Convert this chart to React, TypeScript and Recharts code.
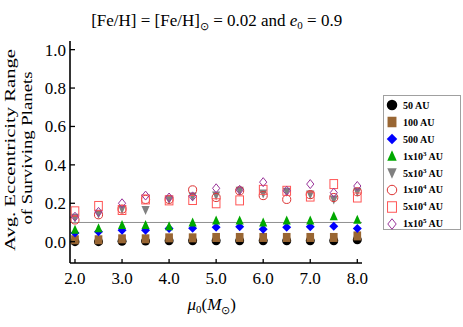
import React from 'react';
import {
  ScatterChart,
  Scatter,
  XAxis,
  YAxis,
  ReferenceLine,
  Legend
} from 'recharts';

// initial mass mu0 (solar masses)
const MU0 = [2.0, 2.5, 3.0, 3.5, 4.0, 4.5, 5.0, 5.5, 6.0, 6.5, 7.0, 7.5, 8.0];

// avg. eccentricity range per orbital distance
const AU_50 = [0.0, 0.0, 0.002, 0.003, 0.005, 0.005, 0.005, 0.005, 0.005, 0.005, 0.005, 0.005, 0.01];
const AU_100 = [0.01, 0.01, 0.015, 0.015, 0.02, 0.02, 0.022, 0.022, 0.022, 0.022, 0.022, 0.022, 0.03];
const AU_500 = [0.045, 0.052, 0.06, 0.06, 0.068, 0.07, 0.075, 0.078, 0.065, 0.075, 0.078, 0.08, 0.068];
const AU_1E3 = [0.062, 0.07, 0.087, 0.087, 0.08, 0.1, 0.11, 0.11, 0.1, 0.11, 0.11, 0.133, 0.115];
const AU_5E3 = [0.125, 0.145, 0.17, 0.165, 0.22, 0.235, 0.24, 0.265, 0.25, 0.26, 0.245, 0.22, 0.26];
const AU_1E4 = [0.113, 0.14, 0.17, 0.22, 0.22, 0.27, 0.23, 0.265, 0.24, 0.22, 0.245, 0.23, 0.26];
const AU_5E4 = [0.158, 0.186, 0.165, 0.22, 0.215, 0.217, 0.2, 0.215, 0.27, 0.265, 0.235, 0.3, 0.23];
const AU_1E5 = [0.13, 0.155, 0.2, 0.24, 0.23, 0.236, 0.278, 0.27, 0.31, 0.265, 0.3, 0.255, 0.29];

const X_TICKS = [2, 3, 4, 5, 6, 7, 8];
const Y_TICKS = [0, 0.2, 0.4, 0.6, 0.8, 1.0];
const THRESHOLD = 0.1;

const SERIES = [
  { name: '50 AU', values: AU_50, kind: 'circle', color: '#000000' },
  { name: '100 AU', values: AU_100, kind: 'square', color: '#996633' },
  { name: '500 AU', values: AU_500, kind: 'diamond', color: '#0000ff' },
  { name: '1x10^3 AU', values: AU_1E3, kind: 'triangle', color: '#00a800' },
  { name: '5x10^3 AU', values: AU_5E3, kind: 'invtriangle', color: '#808080' },
  { name: '1x10^4 AU', values: AU_1E4, kind: 'ocircle', color: '#dd3333' },
  { name: '5x10^4 AU', values: AU_5E4, kind: 'osquare', color: '#ff5555' },
  { name: '1x10^5 AU', values: AU_1E5, kind: 'odiamond', color: '#993399' },
];

const FONT = '"Liberation Serif", "Times New Roman", serif';
const TICK_GAP = 6;

const Marker = ({ kind, color, cx, cy, s }: any) => {
  const h = s / 2;
  switch (kind) {
    case 'circle':
      return <circle cx={cx} cy={cy} r={h} fill={color} />;
    case 'square':
      return <rect x={cx - h * 0.85} y={cy - h} width={s * 0.85} height={s} fill={color} />;
    case 'diamond':
      return <polygon points={`${cx},${cy - h} ${cx + h},${cy} ${cx},${cy + h} ${cx - h},${cy}`} fill={color} />;
    case 'triangle':
      return <polygon points={`${cx},${cy - h * 1.1} ${cx + h * 0.9},${cy + h * 0.9} ${cx - h * 0.9},${cy + h * 0.9}`} fill={color} />;
    case 'invtriangle':
      return <polygon points={`${cx},${cy + h * 1.1} ${cx + h * 0.9},${cy - h * 0.9} ${cx - h * 0.9},${cy - h * 0.9}`} fill={color} />;
    case 'ocircle':
      return <circle cx={cx} cy={cy} r={h * 0.9} fill="none" stroke={color} strokeWidth={1} />;
    case 'osquare':
      return <rect x={cx - h * 0.85} y={cy - h} width={s * 0.85} height={s} fill="none" stroke={color} strokeWidth={1} />;
    case 'odiamond':
      return <polygon points={`${cx},${cy - h} ${cx + h * 0.8},${cy} ${cx},${cy + h} ${cx - h * 0.8},${cy}`} fill="none" stroke={color} strokeWidth={1} />;
    default:
      return null;
  }
};

const XTick = (props: any) => {
  const { x, y, payload } = props;
  const axisY = y - TICK_GAP;
  return (
    <g>
      <line x1={x} x2={x} y1={axisY} y2={axisY - 4} stroke="#000" strokeWidth={1.3} />
      <text x={x} y={axisY + 20.5} textAnchor="middle" fontFamily={FONT} fontSize={17} fill="#000">
        {Number(payload.value).toFixed(1)}
      </text>
    </g>
  );
};

const YTick = (props: any) => {
  const { x, y, payload } = props;
  const axisX = x + TICK_GAP;
  return (
    <g>
      <line x1={axisX} x2={axisX + 5} y1={y} y2={y} stroke="#000" strokeWidth={1.3} />
      <text x={axisX - 4} y={y} dy="0.35em" textAnchor="end" fontFamily={FONT} fontSize={17} fill="#000">
        {Number(payload.value).toFixed(1)}
      </text>
    </g>
  );
};

const LegendLabel = ({ name }: { name: string }) => {
  const m = name.match(/^(.*)\^(\d)(.*)$/);
  if (!m) return <span>{name}</span>;
  return (
    <span>
      {m[1]}
      <sup style={{ fontSize: 7, verticalAlign: 'top', lineHeight: '7px' }}>{m[2]}</sup>
      {m[3]}
    </span>
  );
};

const renderLegend = () => (
  <div
    style={{
      border: '1px solid #a0a0a0',
      width: 78,
      height: 135,
      boxSizing: 'border-box',
      paddingTop: 1,
      background: '#fff',
    }}
  >
    {SERIES.map((s) => (
      <div key={s.name} style={{ display: 'flex', alignItems: 'center', height: 16.9 }}>
        <svg width={17} height={16} style={{ flex: 'none' }}>
          <Marker kind={s.kind} color={s.color} cx={8} cy={8} s={10.5} />
        </svg>
        <span style={{ marginLeft: 2, fontFamily: FONT, fontWeight: 'bold', fontSize: 10, color: '#000', whiteSpace: 'nowrap' }}>
          <LegendLabel name={s.name} />
        </span>
      </div>
    ))}
  </div>
);

export default function App() {
  return (
    <div style={{ position: 'absolute', left: 0, top: 0, width: 463, height: 327, background: '#fff' }}>
      <ScatterChart width={463} height={327} margin={{ top: 41, right: 101, bottom: 34, left: 40 }}>
        <XAxis
          type="number"
          dataKey="x"
          domain={[1.894, 8.1]}
          ticks={X_TICKS}
          allowDataOverflow
          height={30}
          tickSize={0}
          tickMargin={TICK_GAP}
          tickLine={false}
          axisLine={{ stroke: '#000', strokeWidth: 1.6 }}
          tick={<XTick />}
        />
        <XAxis xAxisId="top" type="number" orientation="top" domain={[0, 1]} height={0} tick={false} tickLine={false} axisLine={{ stroke: '#000', strokeWidth: 1.6 }} />
        <YAxis
          type="number"
          dataKey="y"
          domain={[-0.111, 1.045]}
          ticks={Y_TICKS}
          allowDataOverflow
          width={30}
          tickSize={0}
          tickMargin={TICK_GAP}
          tickLine={false}
          axisLine={{ stroke: '#000', strokeWidth: 1.6 }}
          tick={<YTick />}
        />
        <YAxis yAxisId="right" type="number" orientation="right" domain={[0, 1]} width={0} tick={false} tickLine={false} axisLine={{ stroke: '#000', strokeWidth: 1.6 }} />
        <ReferenceLine y={THRESHOLD} stroke="#909090" strokeWidth={1} />
        <Legend
          layout="horizontal"
          align="center"
          verticalAlign="middle"
          content={renderLegend}
          wrapperStyle={{ left: 383, top: 95, width: 80, height: 137 }}
        />
        {SERIES.map((s) => (
          <Scatter
            key={s.name}
            name={s.name}
            data={MU0.map((x, i) => ({ x, y: s.values[i] }))}
            fill={s.color}
            isAnimationActive={false}
            shape={(p: any) => <Marker kind={s.kind} color={s.color} cx={p.cx} cy={p.cy} s={9} />}
          />
        ))}
      </ScatterChart>
      <svg
        width={463}
        height={327}
        style={{ position: 'absolute', left: 0, top: 0, pointerEvents: 'none' }}
        fontFamily={FONT}
        fill="#000"
      >
        <text x={216.7} y={26} textAnchor="middle" fontSize={17}>
          [Fe/H] = [Fe/H]
          <tspan fontSize={11} dy={4}>⊙</tspan>
          <tspan dy={-4}> = 0.02 and </tspan>
          <tspan fontStyle="italic">e</tspan>
          <tspan fontSize={11} dy={3}>0</tspan>
          <tspan dy={-3}> = 0.9</tspan>
        </text>
        <text
          x={15}
          y={150}
          transform="rotate(-90 15 150)"
          textAnchor="middle"
          fontSize={15.5}
          textLength={202}
          lengthAdjust="spacingAndGlyphs"
        >
          Avg. Eccentricity Range
        </text>
        <text
          x={32}
          y={148}
          transform="rotate(-90 32 148)"
          textAnchor="middle"
          fontSize={15.5}
          textLength={153}
          lengthAdjust="spacingAndGlyphs"
        >
          of Surviving Planets
        </text>
        <text x={211.7} y={310} textAnchor="middle" fontSize={17}>
          <tspan fontStyle="italic">μ</tspan>
          <tspan fontSize={11} dy={3}>0</tspan>
          <tspan dy={-3}>(</tspan>
          <tspan fontStyle="italic">M</tspan>
          <tspan fontSize={11} dy={4}>⊙</tspan>
          <tspan dy={-4}>)</tspan>
        </text>
      </svg>
    </div>
  );
}
